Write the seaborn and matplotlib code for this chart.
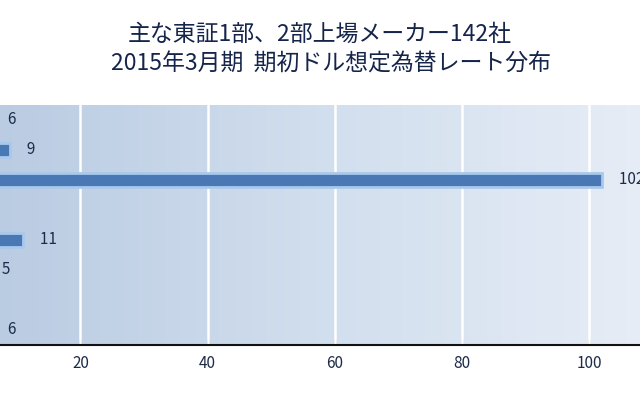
import numpy as np
import pandas as pd
import matplotlib
matplotlib.use('Agg')
import matplotlib.pyplot as plt
from matplotlib.colors import LinearSegmentedColormap
import seaborn as sns

# Data (category labels lie outside the visible crop)
categories = ['105円以上', '101〜104円', '100円', '99円', '96〜98円', '95円', '91〜94円', '90円以下']
counts = [6, 9, 102, 2, 11, 5, 1, 6]
x_ticks = [0, 20, 40, 60, 80, 100, 120]

title_lines = ['主な東証1部、2部上場メーカー142社', '2015年3月期  期初ドル想定為替レート分布']

df = pd.DataFrame({'category': categories, 'count': counts})

sns.set_style('white')
plt.rcParams['font.family'] = ['Noto Sans CJK JP', 'DejaVu Sans']

navy = '#1c2b4a'
fig = plt.figure(figsize=(6.4, 4.0), dpi=100)
# axes reaches past both edges of the figure, like the cropped original
ax = fig.add_axes([-46.8 / 640, 55 / 400, 763.2 / 640, 240 / 400])

# background gradient
cmap = LinearSegmentedColormap.from_list('bg', ['#b7c9e1', '#d2dfee', '#ebf0f8'])
grad = np.linspace(0, 1, 256).reshape(1, -1)
ax.imshow(grad, cmap=cmap, aspect='auto', extent=[0, 1, 0, 1],
          transform=ax.transAxes, zorder=0)

sns.barplot(data=df, x='count', y='category', orient='h', color='#4a78b5',
            width=0.48, edgecolor='#a9c9ec', linewidth=2, saturation=1,
            ax=ax, zorder=3)

ax.set_xlim(0, 120)
ax.set_xticks(x_ticks)
ax.set_xticklabels([str(t) for t in x_ticks])
for t in x_ticks[1:]:
    ax.axvline(t, color='white', lw=1.8, zorder=1)

for i, v in enumerate(counts):
    ax.text(v, i, f'     {v}', va='center', ha='left', fontsize=11,
            color=navy, zorder=4, clip_on=False)

ax.set_xlabel('')
ax.set_ylabel('')
for s in ['top', 'right', 'left']:
    ax.spines[s].set_visible(False)
ax.spines['bottom'].set_color('#111111')
ax.spines['bottom'].set_linewidth(1.5)
ax.tick_params(axis='x', direction='in', length=4, width=1, color='#111111',
               labelsize=11, labelcolor=navy, pad=7, bottom=True)
ax.tick_params(axis='y', left=False, labelsize=9, labelcolor=navy)

fig.text(320 / 640, 1 - 34 / 400, title_lines[0], ha='center', va='center',
         fontsize=16.5, color='#15244a')
fig.text(331 / 640, 1 - 64 / 400, title_lines[1], ha='center', va='center',
         fontsize=16.5, color='#15244a')

fig.savefig('out.png', dpi=100)
